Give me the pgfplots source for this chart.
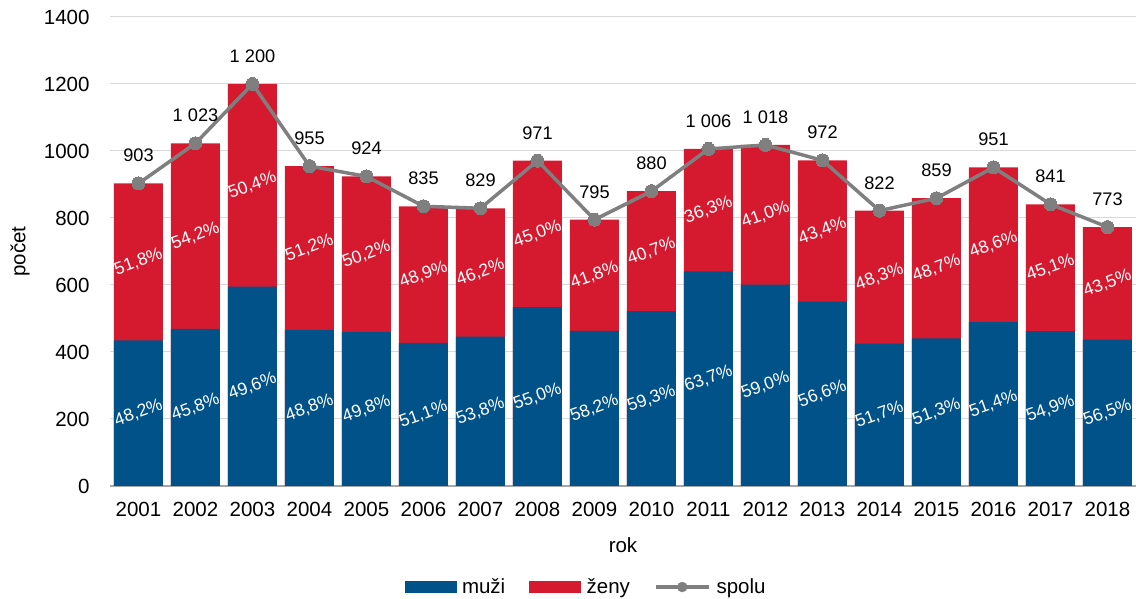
\documentclass[border=0pt]{standalone}
\usepackage{fontspec}
\setmainfont{Liberation Sans}
\usepackage{pgfplots}
\usepackage{pgfplotstable}
\pgfplotsset{compat=1.18}
\definecolor{cblue}{RGB}{0,82,136}
\definecolor{cred}{RGB}{213,26,48}
\definecolor{cgray}{RGB}{127,127,127}
\definecolor{cgrid}{RGB}{217,217,217}
\definecolor{caxis}{RGB}{166,166,166}
\pgfkeys{/pgf/number format/assume math mode=true}
\pgfplotstableread{
x total muzi pm pz
0 903 435 48.2 51.8
1 1023 469 45.8 54.2
2 1200 595 49.6 50.4
3 955 466 48.8 51.2
4 924 460 49.8 50.2
5 835 427 51.1 48.9
6 829 446 53.8 46.2
7 971 534 55.0 45.0
8 795 463 58.2 41.8
9 880 522 59.3 40.7
10 1006 641 63.7 36.3
11 1018 601 59.0 41.0
12 972 550 56.6 43.4
13 822 425 51.7 48.3
14 859 441 51.3 48.7
15 951 489 51.4 48.6
16 841 462 54.9 45.1
17 773 437 56.5 43.5
}\data
\newcommand{\fs}[1]{\fontsize{#1}{#1}\selectfont}
\begin{document}
\begin{tikzpicture}
\useasboundingbox (0,0) rectangle (1136pt,599pt);
\begin{axis}[
  at={(110pt,113pt)}, anchor=south west,
  scale only axis, width=1026pt, height=469pt,
  xmin=-0.5, xmax=17.5, ymin=0, ymax=1400,
  xtick={0,1,2,3,4,5,6,7,8,9,10,11,12,13,14,15,16,17},
  xticklabels={2001,2002,2003,2004,2005,2006,2007,2008,2009,2010,2011,2012,2013,2014,2015,2016,2017,2018},
  ytick={0,200,400,600,800,1000,1200,1400},
  yticklabel style={/pgf/number format/1000 sep={}, font=\fs{20.5}, xshift=-17pt},
  xticklabel style={font=\fs{20.5}, yshift=-13pt},
  major tick length=0pt,
  axis x line*=bottom, axis y line*=left,
  x axis line style={draw=caxis, line width=1.2pt},
  y axis line style={draw=none},
  ymajorgrids, grid style={cgrid, line width=1pt},
  xlabel={rok}, ylabel={počet},
  xlabel style={font=\fs{20.5}, at={(axis description cs:0.5,0)}, anchor=center, yshift=-59pt},
  ylabel style={font=\fs{20.5}, at={(axis description cs:0,0.5)}, anchor=center, yshift=90pt},
  legend style={at={(axis description cs:0.464,-0.2154)}, anchor=center, draw=none, fill=none,
    font=\fs{20.5}, legend columns=3,
    /tikz/every odd column/.append style={column sep=4pt},
    /tikz/every even column/.append style={column sep=22pt}},
  legend cell align=left,
]
\addlegendimage{legend image code/.code={\fill[cblue] (0pt,-5.5pt) rectangle (51pt,5.5pt);}}
\addlegendentry{muži}
\addlegendimage{legend image code/.code={\fill[cred] (0pt,-5.5pt) rectangle (51pt,5.5pt);}}
\addlegendentry{ženy}
\addlegendimage{legend image code/.code={\draw[cgray, line width=3.5pt] (0pt,0pt) -- (53pt,0pt); \fill[cgray] (26.5pt,0pt) circle (5pt);}}
\addlegendentry{spolu}
\addplot[ybar, bar width=49pt, bar shift=0pt, fill=cred, draw=none, forget plot] table[x=x, y=total] {\data};
\addplot[ybar, bar width=49pt, bar shift=0pt, fill=cblue, draw=none, forget plot] table[x=x, y=muzi] {\data};
\addplot[draw=none, mark=none, forget plot, point meta=explicit,
  nodes near coords={\pgfmathprintnumber[fixed, fixed zerofill, precision=1, use comma]{\pgfplotspointmeta}\%},
  nodes near coords style={anchor=center, rotate=20, text=white, font=\fs{17.5}}]
  table[x=x, y expr={\thisrow{muzi}/2}, meta=pm] {\data};
\addplot[draw=none, mark=none, forget plot, point meta=explicit,
  nodes near coords={\pgfmathprintnumber[fixed, fixed zerofill, precision=1, use comma]{\pgfplotspointmeta}\%},
  nodes near coords style={anchor=center, rotate=20, text=white, font=\fs{17.5}}]
  table[x=x, y expr={(\thisrow{total}+\thisrow{muzi})/2}, meta=pz] {\data};
\addplot[cgray, line width=3.5pt, mark=*, mark size=6.5pt, mark options={fill=cgray, draw=cgray, line width=0pt}, forget plot,
  point meta=explicit,
  nodes near coords={\pgfmathprintnumber[1000 sep={\ }]{\pgfplotspointmeta}},
  nodes near coords style={anchor=south, yshift=18pt, text=black, font=\fs{18.2}}]
  table[x=x, y=total, meta=total] {\data};
\end{axis}
\end{tikzpicture}
\end{document}
